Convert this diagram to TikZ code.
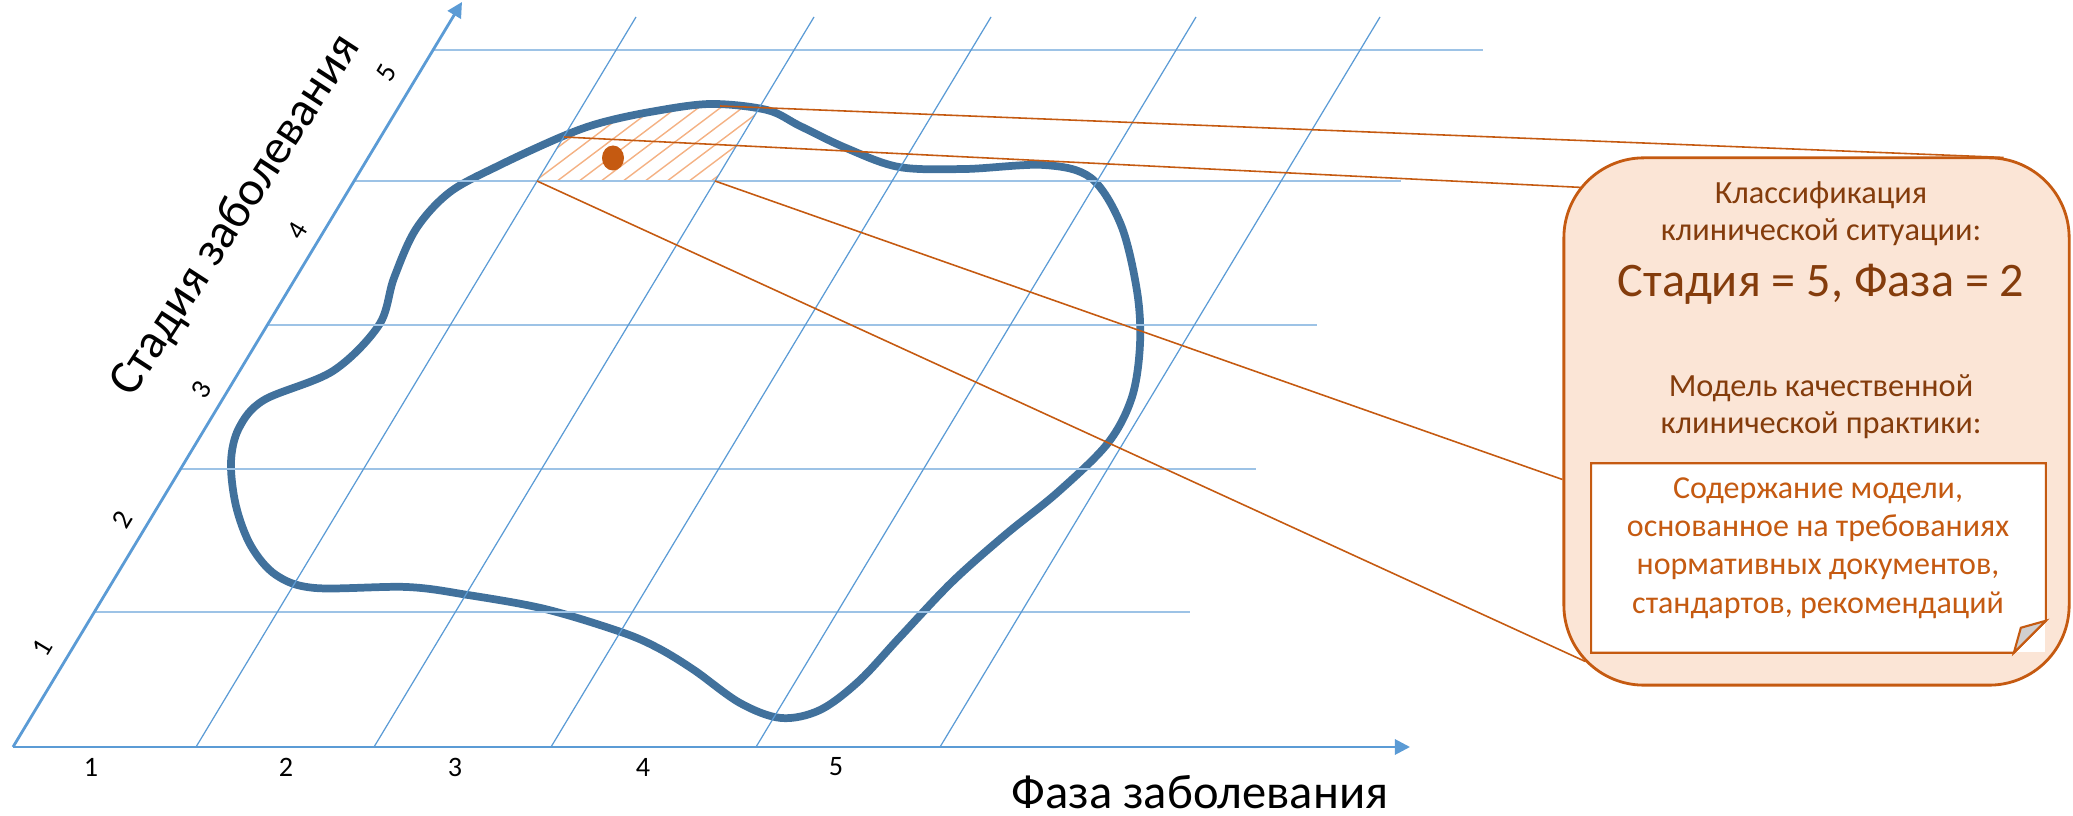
\documentclass[tikz,border=0pt]{standalone}
\usepackage{fontspec}
\setmainfont{Carlito}
\usetikzlibrary{arrows.meta, positioning, calc, shapes.geometric}
\definecolor{axisblue}{HTML}{5B9BD5}
\definecolor{gridblue}{HTML}{9DC3E6}
\definecolor{blobblue}{HTML}{41719C}
\definecolor{rust}{HTML}{C55A11}
\definecolor{darkrust}{HTML}{843C0C}
\definecolor{peach}{HTML}{FBE5D6}
\definecolor{hatchcol}{HTML}{F4B183}
\definecolor{foldgray}{HTML}{D0CECE}
\newcommand{\blobpath}{plot[smooth cycle, tension=0.55] coordinates {
  (710,104) (767,110) (800,126) (846,148) (899,167) (965,169) (1044,165)
  (1091,178) (1121,225) (1137,291) (1140,344) (1132,397) (1108,443)
  (1058,492) (1005,535) (952,582) (900,637) (859,681) (820,710) (781,718)
  (740,703) (694,670) (658,648) (621,632) (545,609) (468,595) (407,587)
  (315,588) (276,575) (251,546) (236,506) (231,462) (239,428) (264,400)
  (333,371) (379,325) (394,278) (416,229) (450,192) (500,165) (561,137)
  (600,123) (650,112)}}

\begin{document}
\begin{tikzpicture}[x=0.01cm, y=-0.01cm,
    axis/.style={axisblue, line width=0.8pt, -{Triangle[length=4.3pt, width=4.3pt]}},
    hgrid/.style={gridblue, line width=0.6pt},
    sgrid/.style={axisblue, line width=0.35pt},
    blob/.style={blobblue, line width=2.2pt},
    hatch/.style={hatchcol, line width=0.4pt},
    tick/.style={font=\fontsize{8}{9.6}\selectfont, inner sep=0pt},
    title/.style={font=\fontsize{13.8}{16}\selectfont, inner sep=0pt},
    dot/.style={ellipse, fill=rust, minimum width=0.22cm, minimum height=0.25cm, inner sep=0pt},
    link/.style={rust, line width=0.45pt},
    callout/.style={draw=rust, fill=peach, line width=0.8pt, rounded corners=0.8cm,
                    minimum width=5.05cm, minimum height=5.27cm},
    sheet/.style={fill=white, minimum width=4.53cm, minimum height=1.88cm, inner sep=0pt},
    txt/.style={text=darkrust, align=center, inner sep=0pt, font=\fontsize{9.2}{10.6}\selectfont},
    bigtxt/.style={text=darkrust, inner sep=0pt, font=\fontsize{13.7}{16}\selectfont},
    sheettxt/.style={text=rust, align=center, inner sep=0pt, font=\fontsize{9.1}{10.9}\selectfont}
  ]
  \useasboundingbox (0,0) rectangle (2073,816);

  \begin{scope}
    \clip (537,181) -- (715,181) -- (794,50) -- (616,50) -- cycle;
    \clip \blobpath;
    \foreach \k in {0,...,20}
      \draw[hatch] (400+22*\k,200) -- ++(300,-226);
  \end{scope}
  \draw[blob] \blobpath;

  \foreach \y/\xa/\xb in {612/95/1190, 469/181/1256, 325/267/1317, 181/354/1401, 50/433/1483}
    \draw[hgrid] (\xa,\y) -- (\xb,\y);
  \foreach \xb in {196,374,551,756,940}
    \draw[sgrid] (\xb,747) -- ++(440,-730);

  \coordinate (origin)    at (13,747);
  \coordinate (phase-tip) at (1410,747);
  \coordinate (stage-tip) at (462,2);
  \draw[axis] (origin) -- (phase-tip);
  \draw[axis] (origin) -- (stage-tip);

  \foreach \x/\n in {91/1, 286/2, 455/3, 643/4, 836/5}
    \node[tick] (p\n) at (\x,767) {\n};
  \foreach \x/\y/\n in {42/648/1, 122/520/2, 201/390/3, 297/231/4, 387/73/5}
    \node[tick, rotate=59] (s\n) at (\x,\y) {\n};
  \node[title] (phase-name) at (1200,792) {Фаза заболевания};
  \node[title, rotate=57] (stage-name) at (236,216) {Стадия заболевания};

  \node[dot] (case) at (613,158) {};
  \coordinate (peak)    at (720,106);
  \coordinate (cell-nw) at (564,137);
  \coordinate (cell-sw) at (537,181);
  \coordinate (cell-se) at (715,181);

  \node[callout] (info) at (1816.5,421.5) {};
  \draw[link] (peak)    -- ($(info.north east)+(-67,1)$);
  \draw[link] (cell-nw) -- ($(info.north west)+(19,31)$);
  \draw[link] (cell-se) -- ($(info.west)+(0,58)$);
  \draw[link] (cell-sw) -- ($(info.south west)+(23,-25)$);

  \node[txt] (cls) at (1821,214) {Классификация\\клинической ситуации:};
  \node[bigtxt] (verdict) at (1821,284) {Стадия = 5, Фаза = 2};
  \node[txt] (model) at (1821,407) {Модель качественной\\клинической практики:};

  \node[sheet] (sheet) at (1818.5,558) {};
  \draw[rust, line width=0.6pt] (sheet.north west) -- (sheet.north east)
    -- ($(sheet.south east)+(0,-32)$) -- ($(sheet.south east)+(-32,0)$)
    -- (sheet.south west) -- cycle;
  \filldraw[rust, fill=foldgray, line width=0.6pt] ($(sheet.south east)+(-32,0)$)
    -- ($(sheet.south east)+(-25,-25)$) -- ($(sheet.south east)+(0,-32)$) -- cycle;
  \node[sheettxt] (content) at (1818,548) {Содержание модели,\\основанное на требованиях\\нормативных документов,\\стандартов, рекомендаций};
\end{tikzpicture}
\end{document}
